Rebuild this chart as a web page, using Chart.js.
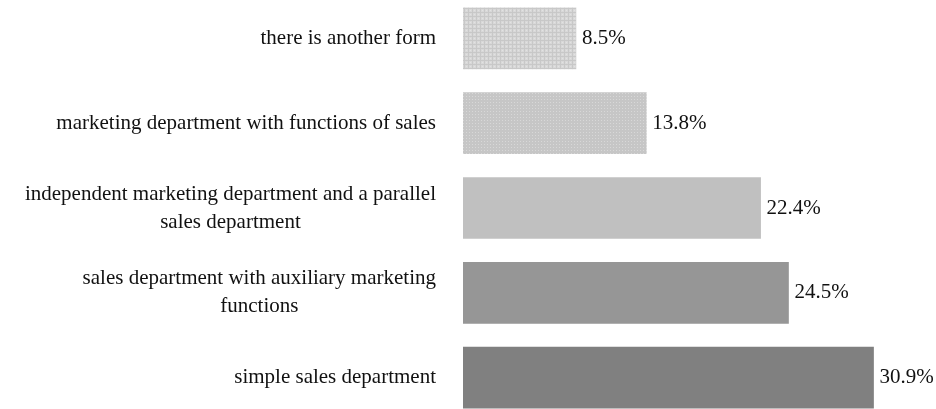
<!DOCTYPE html>
<html>
<head>
    <title>Sales and marketing structure</title>
    <script src="https://cdn.jsdelivr.net/npm/chart.js"></script>
    <style>
        html, body { margin: 0; padding: 0; background: #fff; overflow: hidden; }
        #wrap { position: absolute; left: 0; top: -4px; width: 936px; height: 424px; }
    </style>
</head>
<body>
    <div id="wrap">
        <canvas id="structureChart"></canvas>
    </div>

    <script>
        // categories top to bottom, values in percent
        const categories = [
            "there is another form",
            "marketing department with functions of sales",
            ["independent marketing department and a parallel", "sales department"],
            ["sales department with auxiliary marketing", "functions"],
            "simple sales department"
        ];
        const shares = [8.5, 13.8, 22.4, 24.5, 30.9];
        const valueLabels = ["8.5%", "13.8%", "22.4%", "24.5%", "30.9%"];

        const FONT = '21px "Liberation Serif", "Times New Roman", serif';

        // small tiled fills for the two patterned bars
        function makePattern(size, draw) {
            const c = document.createElement("canvas");
            c.width = size;
            c.height = size;
            draw(c.getContext("2d"));
            return c.getContext("2d").createPattern(c, "repeat");
        }
        const ctx = document.getElementById("structureChart").getContext("2d");

        const gridFill = makePattern(4, (g) => {
            g.fillStyle = "#d8d8d8";
            g.fillRect(0, 0, 4, 4);
            g.fillStyle = "#c8c8c8";
            g.fillRect(0, 0, 4, 1);
            g.fillRect(0, 0, 1, 4);
            g.fillStyle = "#e2e2e2";
            g.fillRect(2, 2, 1, 1);
        });
        const dotFill = makePattern(3, (g) => {
            g.fillStyle = "#c6c6c6";
            g.fillRect(0, 0, 3, 3);
            g.fillStyle = "#d8d8d8";
            g.fillRect(1, 1, 1, 1);
        });

        const barColors = [gridFill, dotFill, "#c0c0c0", "#969696", "#808080"];

        // category labels: block right-aligned, lines centered inside the block
        const labelPlugin = {
            id: "labels",
            afterDraw(chart) {
                const c = chart.ctx;
                const yScale = chart.scales.y;
                const rightEdge = 436;
                const lineHeight = 28;
                c.save();
                c.font = FONT;
                c.fillStyle = "#111";
                c.textBaseline = "middle";
                c.textAlign = "center";
                categories.forEach((label, i) => {
                    const lines = Array.isArray(label) ? label : [label];
                    const blockW = Math.max(...lines.map((l) => c.measureText(l).width));
                    const cx = rightEdge - blockW / 2;
                    const cy = yScale.getPixelForTick(i);
                    lines.forEach((line, j) => {
                        c.fillText(line, cx, cy + (j - (lines.length - 1) / 2) * lineHeight);
                    });
                });

                // value labels after the bar ends
                const meta = chart.getDatasetMeta(0);
                c.textAlign = "left";
                meta.data.forEach((bar, i) => {
                    c.fillText(valueLabels[i], bar.x + 6, bar.y);
                });
                c.restore();
            }
        };

        new Chart(ctx, {
            type: "bar",
            data: {
                labels: categories,
                datasets: [{
                    data: shares,
                    backgroundColor: barColors,
                    borderWidth: 0,
                    barThickness: 61
                }]
            },
            options: {
                indexAxis: "y",
                responsive: true,
                maintainAspectRatio: false,
                animation: false,
                layout: { padding: { left: 0, right: 8, top: 0, bottom: 0 } },
                scales: {
                    x: {
                        display: false,
                        min: 0,
                        max: 35
                    },
                    y: {
                        grid: { display: false },
                        border: { display: false },
                        ticks: { display: false },
                        afterFit(scale) {
                            scale.width = 463;
                        }
                    }
                },
                plugins: {
                    legend: { display: false },
                    tooltip: { enabled: false }
                }
            },
            plugins: [labelPlugin]
        });
    </script>
</body>
</html>
